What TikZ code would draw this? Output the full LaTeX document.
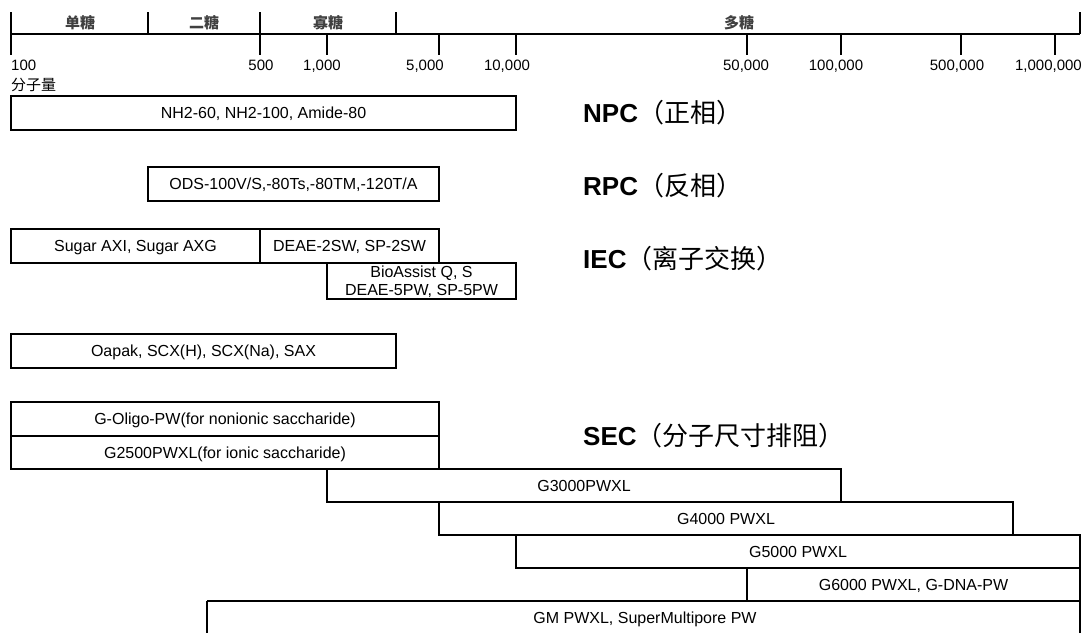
\documentclass[tikz,border=0pt]{standalone}
\usepackage{fontspec}
\setmainfont{Liberation Sans}
\newfontfamily\cjk{Noto Sans CJK SC}

\begin{document}
\begin{tikzpicture}[x=1pt, y=-1pt,
    rangebox/.style={draw=borderColour, line width=1.1pt, inner sep=0pt, align=center,
        text height=11.5pt, text depth=0pt, font=\fontsize{16}{18}\selectfont},
    heavybox/.style={rangebox, line width=1.8pt},
    twolinebox/.style={rangebox, text height=29.5pt},
    boxtext/.style={inner sep=0pt, text height=11.5pt, text depth=0pt, font=\fontsize{16}{18}\selectfont},
    ticklabel/.style={anchor=base, inner sep=0pt, font=\fontsize{15}{17}\selectfont},
    rangelabel/.style={inner sep=0pt, text=textGrey, font=\cjk\bfseries\fontsize{15}{17}\selectfont},
    modelabel/.style={anchor=west, inner sep=0pt, font=\bfseries\fontsize{26}{28}\selectfont}]
    % Define colours
    \definecolor{borderColour}{HTML}{000000}
    \definecolor{textGrey}{HTML}{404040}

    % Define axis height and range box macro
    \def\axisY{34}
    \def\rangebox#1#2#3#4#5#6#7{%
        \node[#1, minimum width={#4pt-#3pt}, minimum height={#6pt-#5pt}]
            (#2) at ({(#3+#4)/2},{(#5+#6)/2}) {#7};}

    \useasboundingbox (0,0) rectangle (1086,633);

    % Draw axis
    \draw[line width=2pt] (11,\axisY) -- (1080,\axisY);
    \foreach \x in {11,260}
        \draw[line width=1.4pt] (\x,12) -- (\x,55);
    \foreach \x/\w in {148/1.2, 396/2.4, 1080/1.6}
        \draw[line width=\w pt] (\x,12) -- (\x,\axisY);
    \foreach \x/\w in {327/1.3, 439/1.4, 516/1.4, 747/2.4, 841/1.3, 961/2.4, 1055/1.4}
        \draw[line width=\w pt] (\x,\axisY) -- (\x,55);

    % Label ticks
    \node[ticklabel, anchor=base west] (m100) at (11,70.5) {100};
    \foreach \x/\lbl/\nm in {261/500/m500, 322/{1,000}/m1k, 425/{5,000}/m5k, 507/{10,000}/m10k,
            746/{50,000}/m50k, 836/{100,000}/m100k, 957/{500,000}/m500k}
        \node[ticklabel] (\nm) at (\x,70.5) {\lbl};
    \node[ticklabel, anchor=base east] (m1m) at (1082,70.5) {1,000,000};
    \node[anchor=west, inner sep=0pt, font=\cjk\fontsize{15}{17}\selectfont] (mw) at (11,85) {分子量};

    % Label sugar ranges
    \node[rangelabel] (mono) at (80,23) {单糖};
    \node[rangelabel] (di) at (204,23) {二糖};
    \node[rangelabel] (oligo) at (328,23) {寡糖};
    \node[rangelabel] (poly) at (739,23) {多糖};

    % NPC and RPC columns
    \rangebox{rangebox}{npcbox}{11}{516}{96}{130}{NH2-60, NH2-100, Amide-80}
    \rangebox{rangebox}{rpcbox}{148}{439}{167}{201}{ODS-100V/S,-80Ts,-80TM,-120T/A}

    % IEC columns
    \rangebox{rangebox}{sugarbox}{11}{260}{229}{263}{Sugar AXI, Sugar AXG}
    \rangebox{rangebox}{deaebox}{260}{439}{229}{263}{DEAE-2SW, SP-2SW}
    \rangebox{twolinebox}{bioassistbox}{327}{516}{263}{299}{BioAssist Q, S\\DEAE-5PW, SP-5PW}
    \rangebox{heavybox}{oapakbox}{11}{396}{334}{368}{Oapak, SCX(H), SCX(Na), SAX}

    % SEC columns
    \rangebox{rangebox}{goligobox}{11}{439}{402}{436}{G-Oligo-PW(for nonionic saccharide)}
    \rangebox{rangebox}{gtwobox}{11}{439}{436}{469}{G2500PWXL(for ionic saccharide)}
    \rangebox{rangebox}{gthreebox}{327}{841}{469}{502}{G3000PWXL}
    \rangebox{rangebox}{gfourbox}{439}{1013}{502}{535}{G4000 PWXL}
    \rangebox{heavybox}{gfivebox}{516}{1080}{535}{568}{G5000 PWXL}
    \rangebox{heavybox}{gsixbox}{747}{1080}{568}{601}{G6000 PWXL, G-DNA-PW}
    \draw[line width=1.1pt] (1080,633) -- (1080,601) -- (207,601);
    \draw[line width=1.8pt] (207,601) -- (207,633);
    \node[boxtext] (gmlabel) at (645,618) {GM PWXL, SuperMultipore PW};

    % Mode labels
    \node[modelabel] (npc) at (583,113) {NPC{\cjk\mdseries（正相）}};
    \node[modelabel] (rpc) at (583,186) {RPC{\cjk\mdseries（反相）}};
    \node[modelabel] (iec) at (583,259) {IEC{\cjk\mdseries（离子交换）}};
    \node[modelabel] (sec) at (583,436) {SEC{\cjk\mdseries（分子尺寸排阻）}};

\end{tikzpicture}
\end{document}
